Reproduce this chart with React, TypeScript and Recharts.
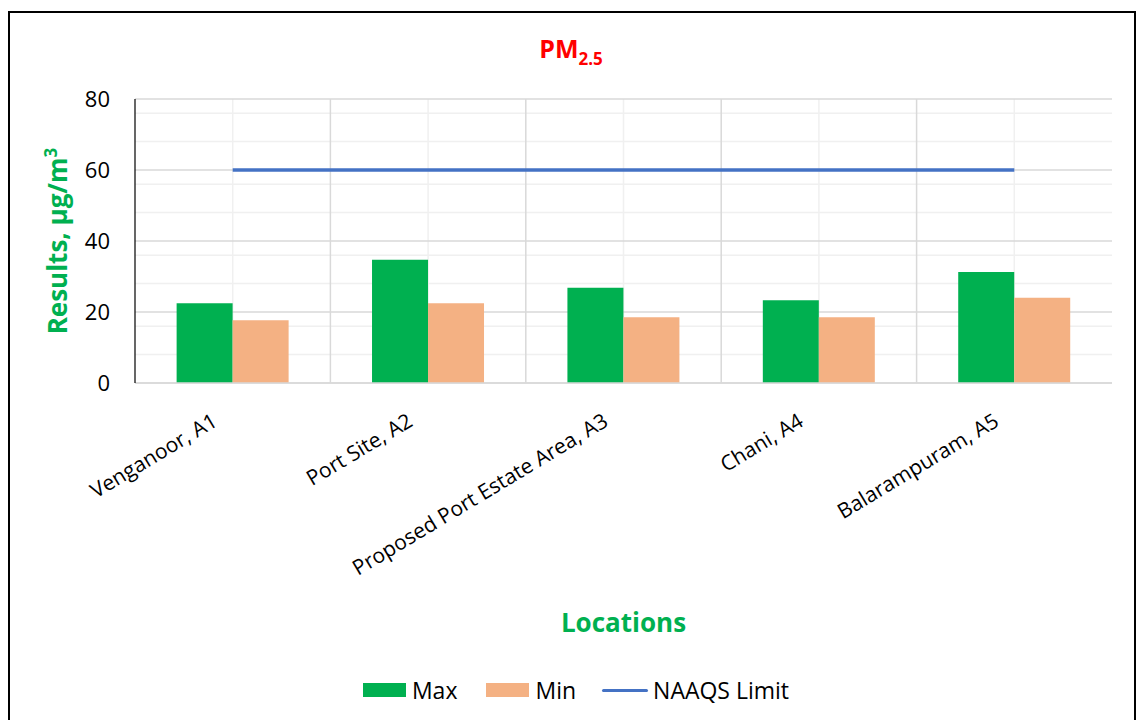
import React from 'react';
import {
  ComposedChart,
  Bar,
  Line,
  XAxis,
  YAxis,
  CartesianGrid,
  Legend,
} from 'recharts';

const categories = [
  'Venganoor, A1',
  'Port Site, A2',
  'Proposed Port Estate Area, A3',
  'Chani, A4',
  'Balarampuram, A5',
];
const maxValues = [22.5, 34.7, 26.8, 23.3, 31.3];
const minValues = [17.7, 22.5, 18.5, 18.5, 24.0];
const limitValues = [60, 60, 60, 60, 60];
const majorTicks = [0, 20, 40, 60, 80];
const minorTicks = [4, 8, 12, 16, 24, 28, 32, 36, 44, 48, 52, 56, 64, 68, 72, 76];

const data = categories.map((name, i) => ({
  name,
  max: maxValues[i],
  min: minValues[i],
  limit: limitValues[i],
}));

const FONT = '"Open Sans", "Noto Sans", sans-serif';
const GREEN = '#00B050';
const PEACH = '#F4B183';
const BLUE = '#4472C4';

// vertical grid: band boundaries (major) and band centres (minor)
const bandLines = (kind: 'major' | 'minor') => (props: any) => {
  const { offset } = props;
  const step = offset.width / categories.length;
  const out: number[] = [];
  for (let i = 0; i < categories.length; i++) {
    if (kind === 'minor') out.push(offset.left + (i + 0.5) * step);
    else if (i > 0) out.push(offset.left + i * step);
  }
  return out;
};

const XTick = (props: any) => {
  const { x, y, payload } = props;
  return (
    <g transform={`translate(${x - 14},${y + 42})`}>
      <text
        textAnchor="end"
        transform="rotate(-31)"
        fontSize={21}
        fontFamily={FONT}
        fill="#000"
      >
        {payload.value}
      </text>
    </g>
  );
};

const YLabel = (props: any) => {
  const { viewBox } = props;
  const cx = viewBox.x - 8;
  const cy = viewBox.y + viewBox.height / 2;
  return (
    <text
      x={cx}
      y={cy}
      transform={`rotate(-90, ${cx}, ${cy})`}
      textAnchor="middle"
      fontSize={26}
      fontWeight="bold"
      fontFamily={FONT}
      fill={GREEN}
    >
      Results, µg/m<tspan fontSize={17} dy={-10}>3</tspan>
    </text>
  );
};

const XLabel = (props: any) => {
  const { viewBox } = props;
  return (
    <text
      x={viewBox.x + viewBox.width / 2}
      y={632}
      textAnchor="middle"
      fontSize={26}
      fontWeight="bold"
      fontFamily={FONT}
      fill={GREEN}
    >
      Locations
    </text>
  );
};

const renderLegend = () => (
  <div
    style={{
      display: 'flex',
      justifyContent: 'center',
      alignItems: 'center',
      fontFamily: FONT,
      fontSize: 23,
      color: '#000',
      paddingLeft: 10,
    }}
  >
    <span style={{ width: 43, height: 14, background: GREEN, marginRight: 6 }} />
    <span style={{ marginRight: 29 }}>Max</span>
    <span style={{ width: 43, height: 14, background: PEACH, marginRight: 6 }} />
    <span style={{ marginRight: 26 }}>Min</span>
    <span style={{ width: 46, height: 3, background: BLUE, marginRight: 5, borderRadius: 2 }} />
    <span>NAAQS Limit</span>
  </div>
);

export default function App() {
  return (
    <div
      style={{
        position: 'absolute',
        left: 0,
        top: 0,
        width: 1142,
        height: 720,
        overflow: 'hidden',
        background: '#fff',
      }}
    >
      <div
        style={{
          position: 'absolute',
          left: 8,
          top: 11,
          width: 1124,
          height: 740,
          border: '2.5px solid #000',
        }}
      />
      <svg
        width={1142}
        height={80}
        style={{ position: 'absolute', left: 0, top: 0 }}
      >
        <text
          x={571}
          y={58}
          textAnchor="middle"
          fontFamily={FONT}
          fontWeight="bold"
          fontSize={25}
          fill="#FF0000"
        >
          PM<tspan fontSize={17} dy={7}>2.5</tspan>
        </text>
      </svg>
      <div style={{ position: 'absolute', left: 0, top: 0 }}>
        <ComposedChart
          width={1142}
          height={720}
          data={data}
          margin={{ top: 99, right: 30, bottom: 277, left: 75 }}
          barCategoryGap="21.3%"
          barGap={0}
        >
          <CartesianGrid
            stroke="#f0f0f0"
            strokeWidth={1.5}
            horizontalValues={minorTicks}
            verticalCoordinatesGenerator={bandLines('minor')}
          />
          <CartesianGrid
            stroke="#d9d9d9"
            strokeWidth={1.5}
            horizontalValues={majorTicks}
            verticalCoordinatesGenerator={bandLines('major')}
          />
          <XAxis
            dataKey="name"
            height={60}
            axisLine={{ stroke: '#d9d9d9', strokeWidth: 1.5 }}
            tickLine={false}
            tickSize={0}
            tickMargin={0}
            interval={0}
            tick={<XTick />}
            label={<XLabel />}
          />
          <XAxis
            xAxisId="top"
            dataKey="name"
            orientation="top"
            height={0}
            axisLine={{ stroke: '#000', strokeWidth: 1.2 }}
            tickLine={false}
            tick={false}
          />
          <YAxis
            width={60}
            domain={[0, 80]}
            ticks={majorTicks}
            axisLine={{ stroke: '#000', strokeWidth: 1.2 }}
            tickLine={false}
            tickSize={0}
            tickMargin={25}
            tick={{ fontSize: 22, fill: '#000', fontFamily: FONT }}
            label={<YLabel />}
          />
          <YAxis
            yAxisId="right"
            orientation="right"
            width={0}
            domain={[0, 80]}
            axisLine={{ stroke: '#000', strokeWidth: 1.2 }}
            tickLine={false}
            tick={false}
          />
          <Bar dataKey="max" name="Max" fill={GREEN} isAnimationActive={false} />
          <Bar dataKey="min" name="Min" fill={PEACH} isAnimationActive={false} />
          <Line
            dataKey="limit"
            name="NAAQS Limit"
            stroke={BLUE}
            strokeWidth={3.5}
            dot={false}
            activeDot={false}
            isAnimationActive={false}
          />
          <Legend
            layout="horizontal"
            verticalAlign="middle"
            align="center"
            content={renderLegend}
            wrapperStyle={{ top: 674, left: 0, width: 1142 }}
          />
        </ComposedChart>
      </div>
    </div>
  );
}
